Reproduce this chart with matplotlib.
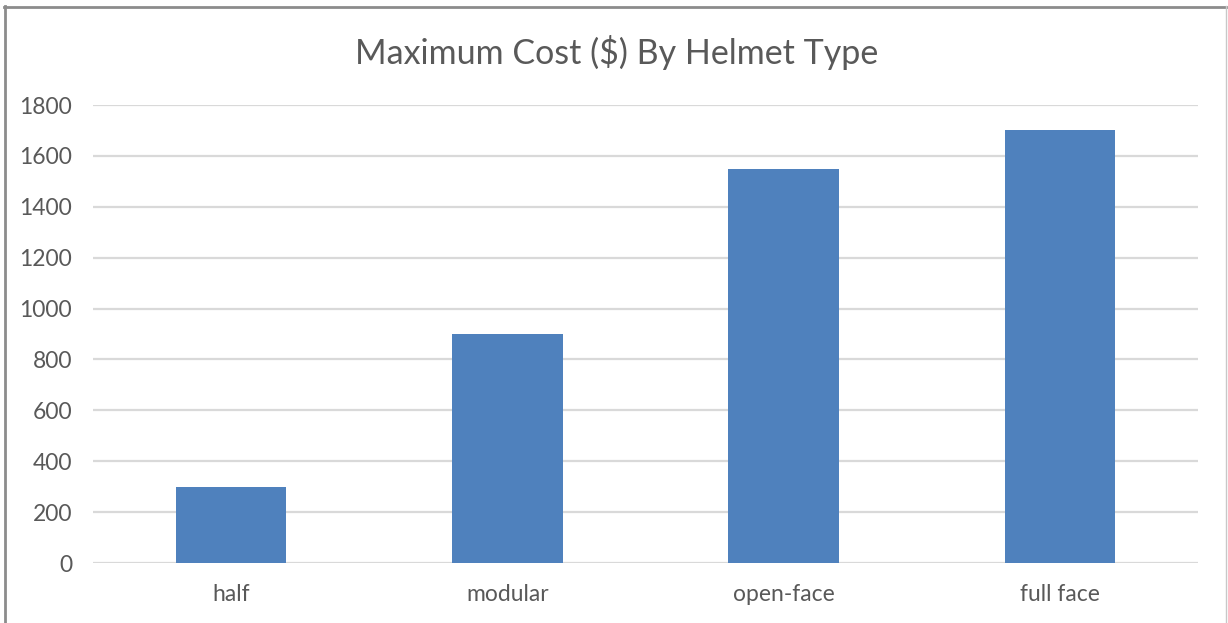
import matplotlib.pyplot as plt
from matplotlib.lines import Line2D

categories = ['half', 'modular', 'open-face', 'full face']
max_cost = [300, 900, 1550, 1700]
yticks = [0, 200, 400, 600, 800, 1000, 1200, 1400, 1600, 1800]

plt.rcParams['font.family'] = ['Lato', 'DejaVu Sans']
txt = '#595959'

W, H = 1228, 623
fig = plt.figure(figsize=(W / 100, H / 100), dpi=100)
# plot area in pixels: x 93..1198, y 105..563
ax = fig.add_axes([93 / W, 1 - 563 / H, (1198 - 93) / W, (563 - 105) / H])

ax.bar(range(len(categories)), max_cost, width=0.4, color='#4f81bd', zorder=3)
ax.set_xlim(-0.5, len(categories) - 0.5)
ax.set_ylim(0, 1800)
ax.set_yticks(yticks)
ax.set_xticks(range(len(categories)))
ax.set_xticklabels(categories)
ax.grid(axis='y', color='#d9d9d9', linewidth=1.6, zorder=0)
for s in ax.spines.values():
    s.set_visible(False)
ax.tick_params(length=0, labelsize=16.5, colors=txt)
ax.tick_params(axis='y', pad=15)
ax.tick_params(axis='x', pad=15)

fig.text(617 / W, 1 - 52 / H, 'Maximum Cost ($) By Helmet Type', ha='center', va='center',
         fontsize=24.5, color=txt)

# chart frame
fig.add_artist(Line2D([4.5 / W, 4.5 / W], [0, 1 - 6 / H], color='#8c8c8c', lw=2))
fig.add_artist(Line2D([4 / W, 1226 / W], [1 - 6.5 / H, 1 - 6.5 / H], color='#8c8c8c', lw=2))
fig.add_artist(Line2D([1226 / W, 1226 / W], [0, 1 - 6 / H], color='#c8c8c8', lw=1))

fig.savefig('out.png', dpi=100)
